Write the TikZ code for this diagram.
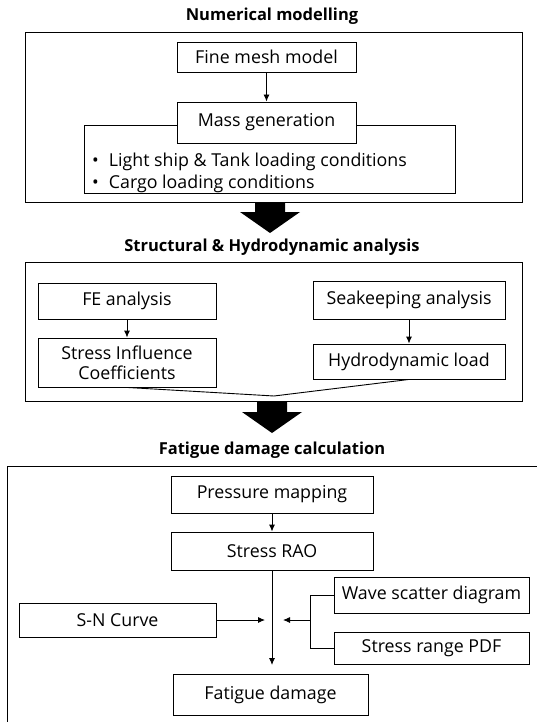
\documentclass[tikz,border=0pt]{standalone}
\usepackage{fontspec}
\setmainfont{Open Sans}
\usetikzlibrary{arrows.meta}
\tikzset{
  txt/.style={font=\fontsize{17.8}{20}\selectfont},
  box/.style={draw, line width=0.9pt, fill=white, inner sep=0pt, align=center, txt},
  frame/.style={draw, line width=0.95pt},
  ttl/.style={font=\fontsize{16.5}{18}\selectfont\bfseries, inner sep=0pt},
  arr/.style={line width=0.9pt, -{Latex[length=7pt,width=6pt]}},
  ln/.style={line width=0.9pt},
  bigarrow/.style={fill=black, draw=none}
}
\begin{document}
\begin{tikzpicture}[x=1pt,y=-1pt]
\clip (0,0) rectangle (537,722);
\fill[white] (0,0) rectangle (537,722);
% ---------- Section 1
\node[ttl] (t1) at (272,16) {Numerical modelling};
\draw[frame] (25.7,32) rectangle (522,202);
\draw[ln] (84,125) rectangle (455,193);
\node[box, minimum width=179pt, minimum height=30pt] (fine) at (266.5,57) {Fine mesh model};
\node[box, minimum width=179pt, minimum height=41pt] (mass) at (266.5,122.5) {Mass generation};
\draw[arr] (fine) -- (mass);
\node[anchor=base west, inner sep=0pt, txt] (l1) at (92,167) {\textbullet\hspace{10pt}Light ship \& Tank loading conditions};
\node[anchor=base west, inner sep=0pt, txt] (l2) at (92,188) {\textbullet\hspace{10pt}Cargo loading conditions};
\fill[bigarrow] (255,202) -- (285,202) -- (285,212) -- (300,212) -- (270,233) -- (240,212) -- (255,212) -- cycle;
% ---------- Section 2
\node[ttl] (t2) at (272,247) {Structural \& Hydrodynamic analysis};
\draw[frame] (25.7,262) rectangle (522,401);
\node[box, minimum width=178pt, minimum height=36pt] (fe) at (127,301) {FE analysis};
\node[box, minimum width=178pt, minimum height=49pt] (sic) at (127,362.5) {Stress Influence\\Coefficients};
\node[box, minimum width=192pt, minimum height=38pt] (sea) at (409,300) {Seakeeping analysis};
\node[box, minimum width=192pt, minimum height=35pt] (hyd) at (409,361.5) {Hydrodynamic load};
\draw[arr] (fe) -- (sic);
\draw[arr] (sea) -- (hyd);
\coordinate (mrg) at (274,396);
\draw[ln] (sic.south) -- (mrg) -- (hyd.south);
\fill[bigarrow] (257,401) -- (287,401) -- (287,412) -- (302,412) -- (272,433) -- (242,412) -- (257,412) -- cycle;
% ---------- Section 3
\node[ttl] (t3) at (272,450) {Fatigue damage calculation};
\draw[frame] (7,466) rectangle (560,740);
\node[box, minimum width=202pt, minimum height=37pt] (pm) at (272,494.5) {Pressure mapping};
\node[box, minimum width=202pt, minimum height=38pt] (rao) at (272,551) {Stress RAO};
\node[box, minimum width=195pt, minimum height=41pt] (fd) at (270.5,694.5) {Fatigue damage};
\node[box, minimum width=197pt, minimum height=34pt] (sn) at (117.5,620) {S-N Curve};
\node[box, minimum width=195pt, minimum height=36pt] (wave) at (431.5,595) {Wave scatter diagram};
\node[box, minimum width=195pt, minimum height=32pt] (srp) at (431.5,648) {Stress range PDF};
\draw[arr] (pm) -- (rao);
\coordinate (fdin) at (272,665);
\draw[arr] (rao.south) -- (fdin);
\coordinate (snend) at (265,620);
\draw[arr] (sn.east) -- (snend);
\coordinate (wj) at (310,595);
\coordinate (sj) at (310,648);
\coordinate (mj) at (310,620);
\coordinate (mend) at (283,620);
\draw[ln] (wave.west) -- (wj) -- (sj) -- (srp.west);
\draw[arr] (mj) -- (mend);
\end{tikzpicture}
\end{document}
